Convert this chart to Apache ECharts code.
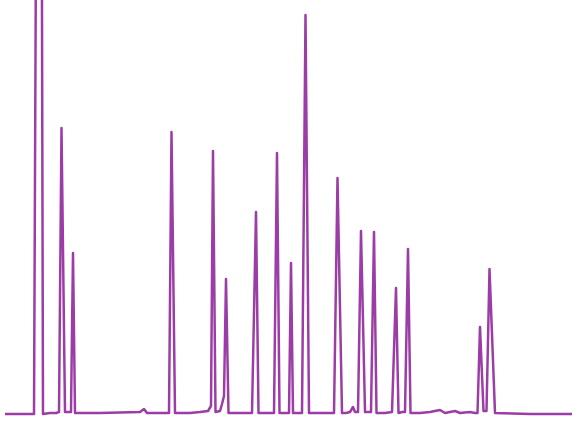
<!DOCTYPE html>
<html>
<head>
<meta charset="utf-8">
<script src="https://cdn.jsdelivr.net/npm/echarts@6/dist/echarts.min.js"></script>
<style>html,body{margin:0;padding:0;background:#fff}#c{width:572px;height:426px}</style>
</head>
<body>
<div id="c"></div>
<script>
// Retention position (arbitrary units) and detector response
const retention = [5,34,35,36.5,41.5,43,50,56,58,59,61.5,62.5,65,67,71,73,75,100,140,144,147,165,169,171.5,172.5,175,190,200,208,211,213,215.5,220,222,224,226,228.5,240,252,256,258.5,268,274,277,279.5,285,289,291,293,297,302,305.5,306.5,309,315,330,334,337.5,338.5,342,346,350,353,355,358,361,363,365,368,371,374,376.5,385,392,396,398.5,402,405,408,410.5,420,430,440,445,455,460,470,475,477.5,480,483.5,486.5,489.5,495,530,572];
const response  = [2,2,2,600,600,2,3,3,5,4,288,286,4,4,4,163,3,3,4,7,3,3,3,284,282,3,3,4,5,10,265,4,5,12,20,137,3,3,3,204,3,3,3,263,3,3,3,153,3,3,3,401,401,3,3,3,3,238,236,3,3,4,9,4,4,185,184,4,4,4,184,3,3,4,128,3,4,4,167,3,3,4,6,3,5,3,4,3,3,89,5,5,147,3,2,2,2];

const chart = echarts.init(document.getElementById('c'));
chart.setOption({
  animation: false,
  grid: {left: 0, right: 0, top: 0, bottom: 10},
  xAxis: {type: 'value', min: 0, max: 572, show: false},
  yAxis: {type: 'value', min: 0, max: 416, show: false},
  series: [{
    type: 'line',
    data: retention.map((x, i) => [x, response[i]]),
    showSymbol: false,
    clip: true,
    lineStyle: {color: '#9c3ca6', width: 2.5, join: 'round'}
  }]
});
</script>
</body>
</html>
